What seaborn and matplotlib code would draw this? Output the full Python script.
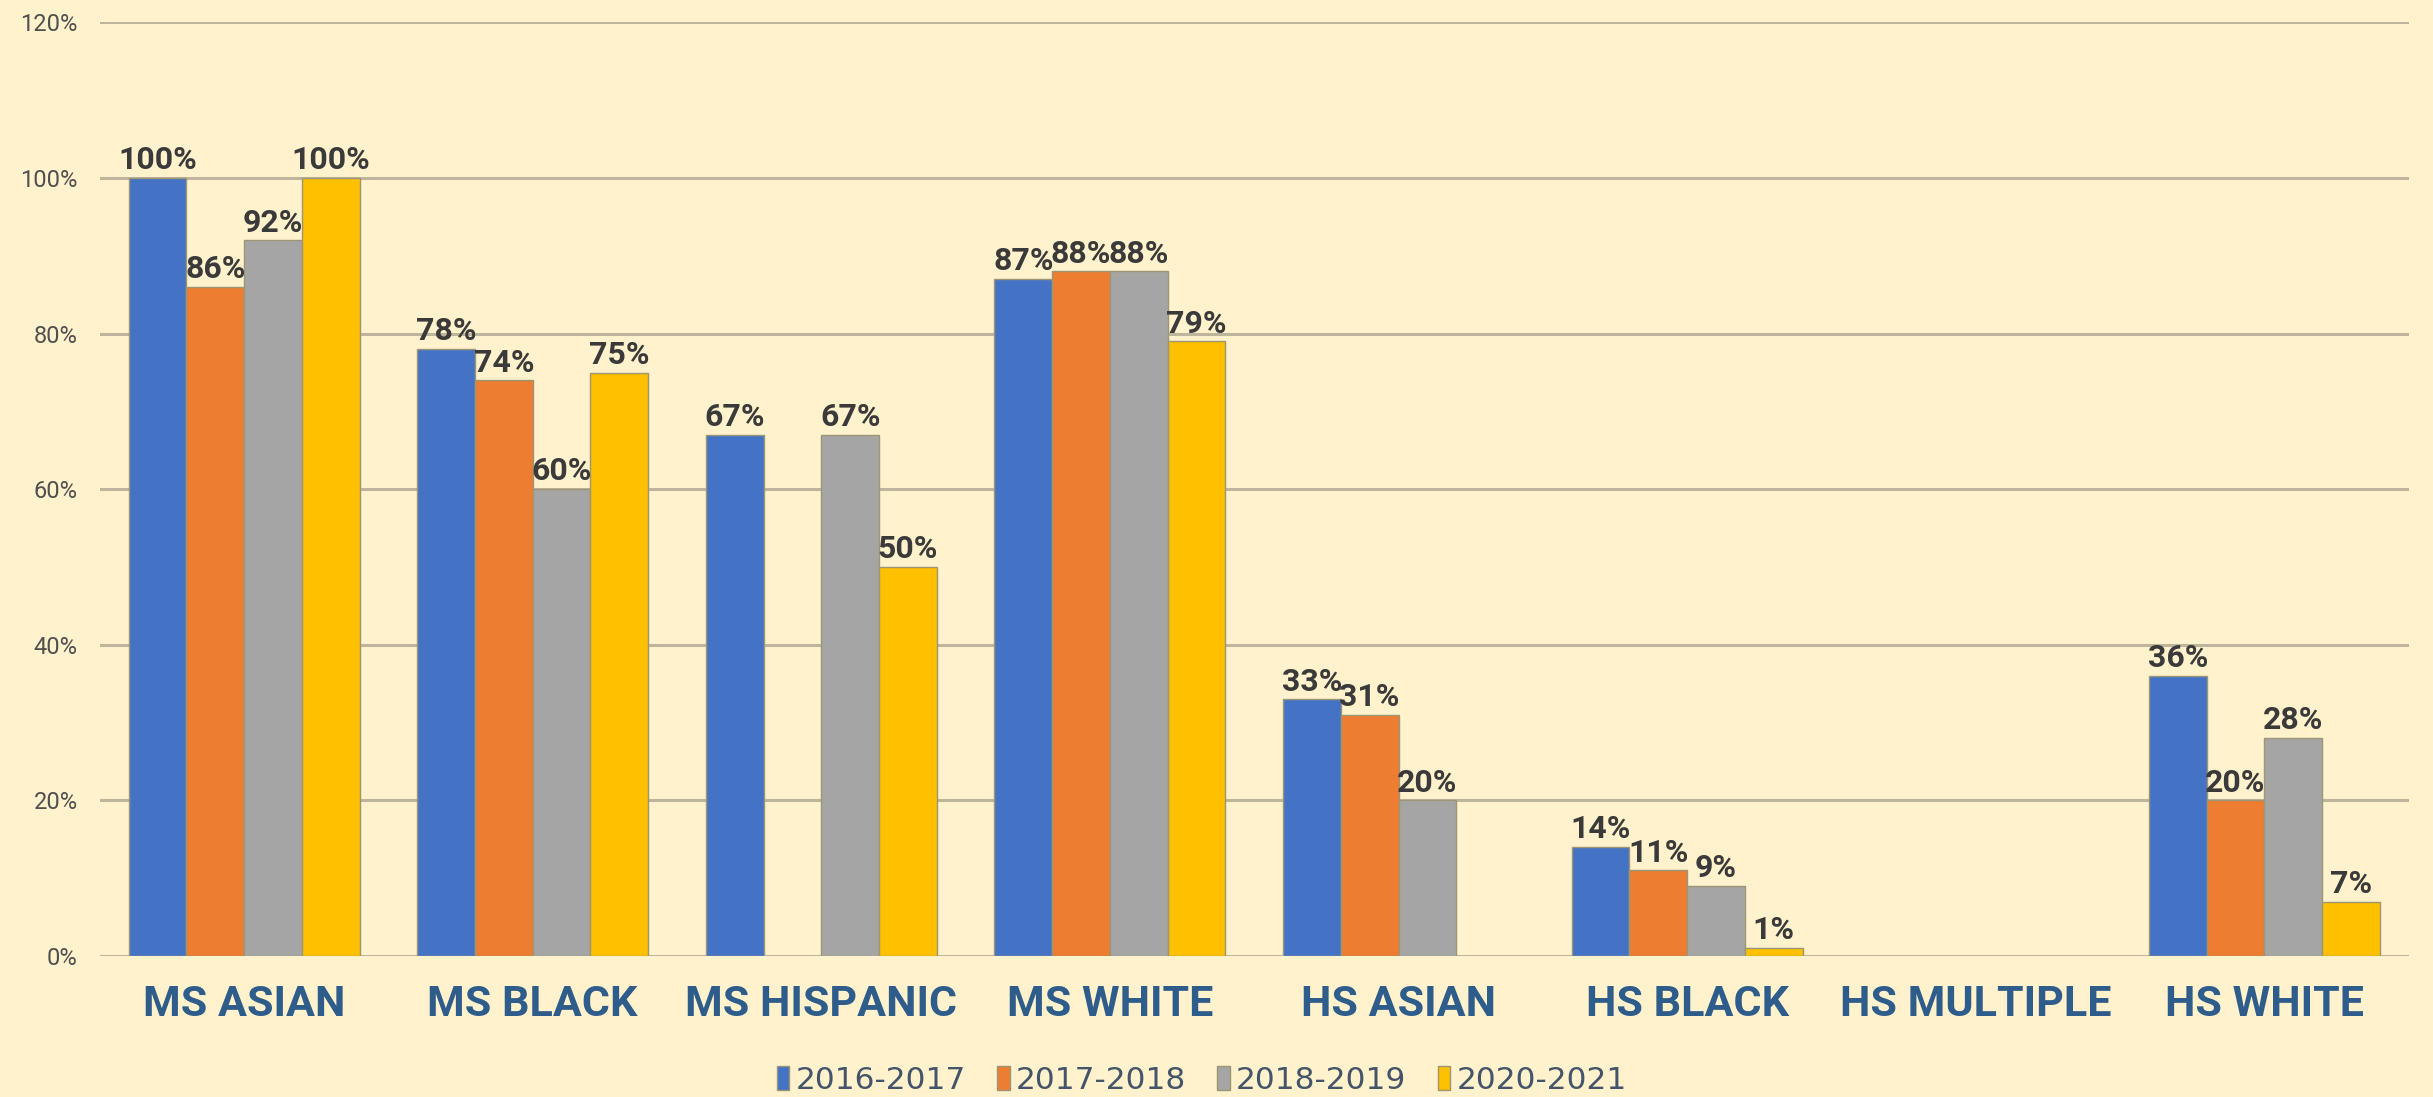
import pandas as pd
import numpy as np
import matplotlib.pyplot as plt
import seaborn as sns

# Data
categories = ['MS ASIAN', 'MS BLACK', 'MS HISPANIC', 'MS WHITE',
              'HS ASIAN', 'HS BLACK', 'HS MULTIPLE', 'HS WHITE']
years = ['2016-2017', '2017-2018', '2018-2019', '2020-2021']
y2016 = [100, 78, 67, 87, 33, 14, np.nan, 36]
y2017 = [86, 74, np.nan, 88, 31, 11, np.nan, 20]
y2018 = [92, 60, 67, 88, 20, 9, np.nan, 28]
y2020 = [100, 75, 50, 79, np.nan, 1, np.nan, 7]
colors = ['#4472C4', '#ED7D31', '#A5A5A5', '#FFC000']

# Long format
df = pd.DataFrame({'group': categories, years[0]: y2016, years[1]: y2017,
                   years[2]: y2018, years[3]: y2020})
df = df.melt(id_vars='group', var_name='year', value_name='pct')

bg = '#FFF2CC'

sns.set_style('white')
plt.rcParams['font.family'] = ['Roboto', 'DejaVu Sans']

fig = plt.figure(figsize=(24.33, 10.97), dpi=100, facecolor=bg)
ax = fig.add_axes([0.041, 0.1285, 0.949, 0.851])
ax.set_facecolor(bg)

sns.barplot(data=df, x='group', y='pct', hue='year', order=categories,
            hue_order=years, palette=colors, width=0.8, saturation=1,
            edgecolor='#9C9676', linewidth=1, ax=ax, legend=True)

# Data labels
for cont in ax.containers:
    labels = ['' if np.isnan(v) else f'{v:.0f}%' for v in cont.datavalues]
    ax.bar_label(cont, labels=labels, padding=2, fontsize=23,
                 fontweight='bold', color='#3A3A3A')

# Axes styling
ax.set_ylim(0, 120)
ax.set_xlim(-0.5, len(categories) - 0.5)
ax.set_yticks(range(0, 121, 20))
ax.set_yticklabels([f'{t}%' for t in range(0, 121, 20)], fontsize=17,
                   color='#505050')
ax.yaxis.grid(True, color='#BDB69C', linewidth=2.2)
ax.set_axisbelow(True)
for s in ax.spines.values():
    s.set_visible(False)
ax.tick_params(axis='y', length=0, pad=16)
ax.tick_params(axis='x', length=0, pad=20)
for lbl in ax.get_xticklabels():
    lbl.set_fontsize(31)
    lbl.set_fontweight('bold')
    lbl.set_color('#2E5D8C')
ax.set_xlabel('')
ax.set_ylabel('')

# Legend
ax.legend_.remove()
handles = [plt.Rectangle((0, 0), 1, 1, facecolor=c, edgecolor='#9C9676')
           for c in colors]
fig.legend(handles, years, loc='center', bbox_to_anchor=(0.494, 0.015),
           ncol=4, frameon=False, handlelength=0.4,
           handleheight=0.8, handletextpad=0.2, columnspacing=1.0,
           labelcolor='#44546A', prop={'family': 'DejaVu Sans', 'size': 22.5})

fig.savefig('out.png', dpi=100, facecolor=bg)
